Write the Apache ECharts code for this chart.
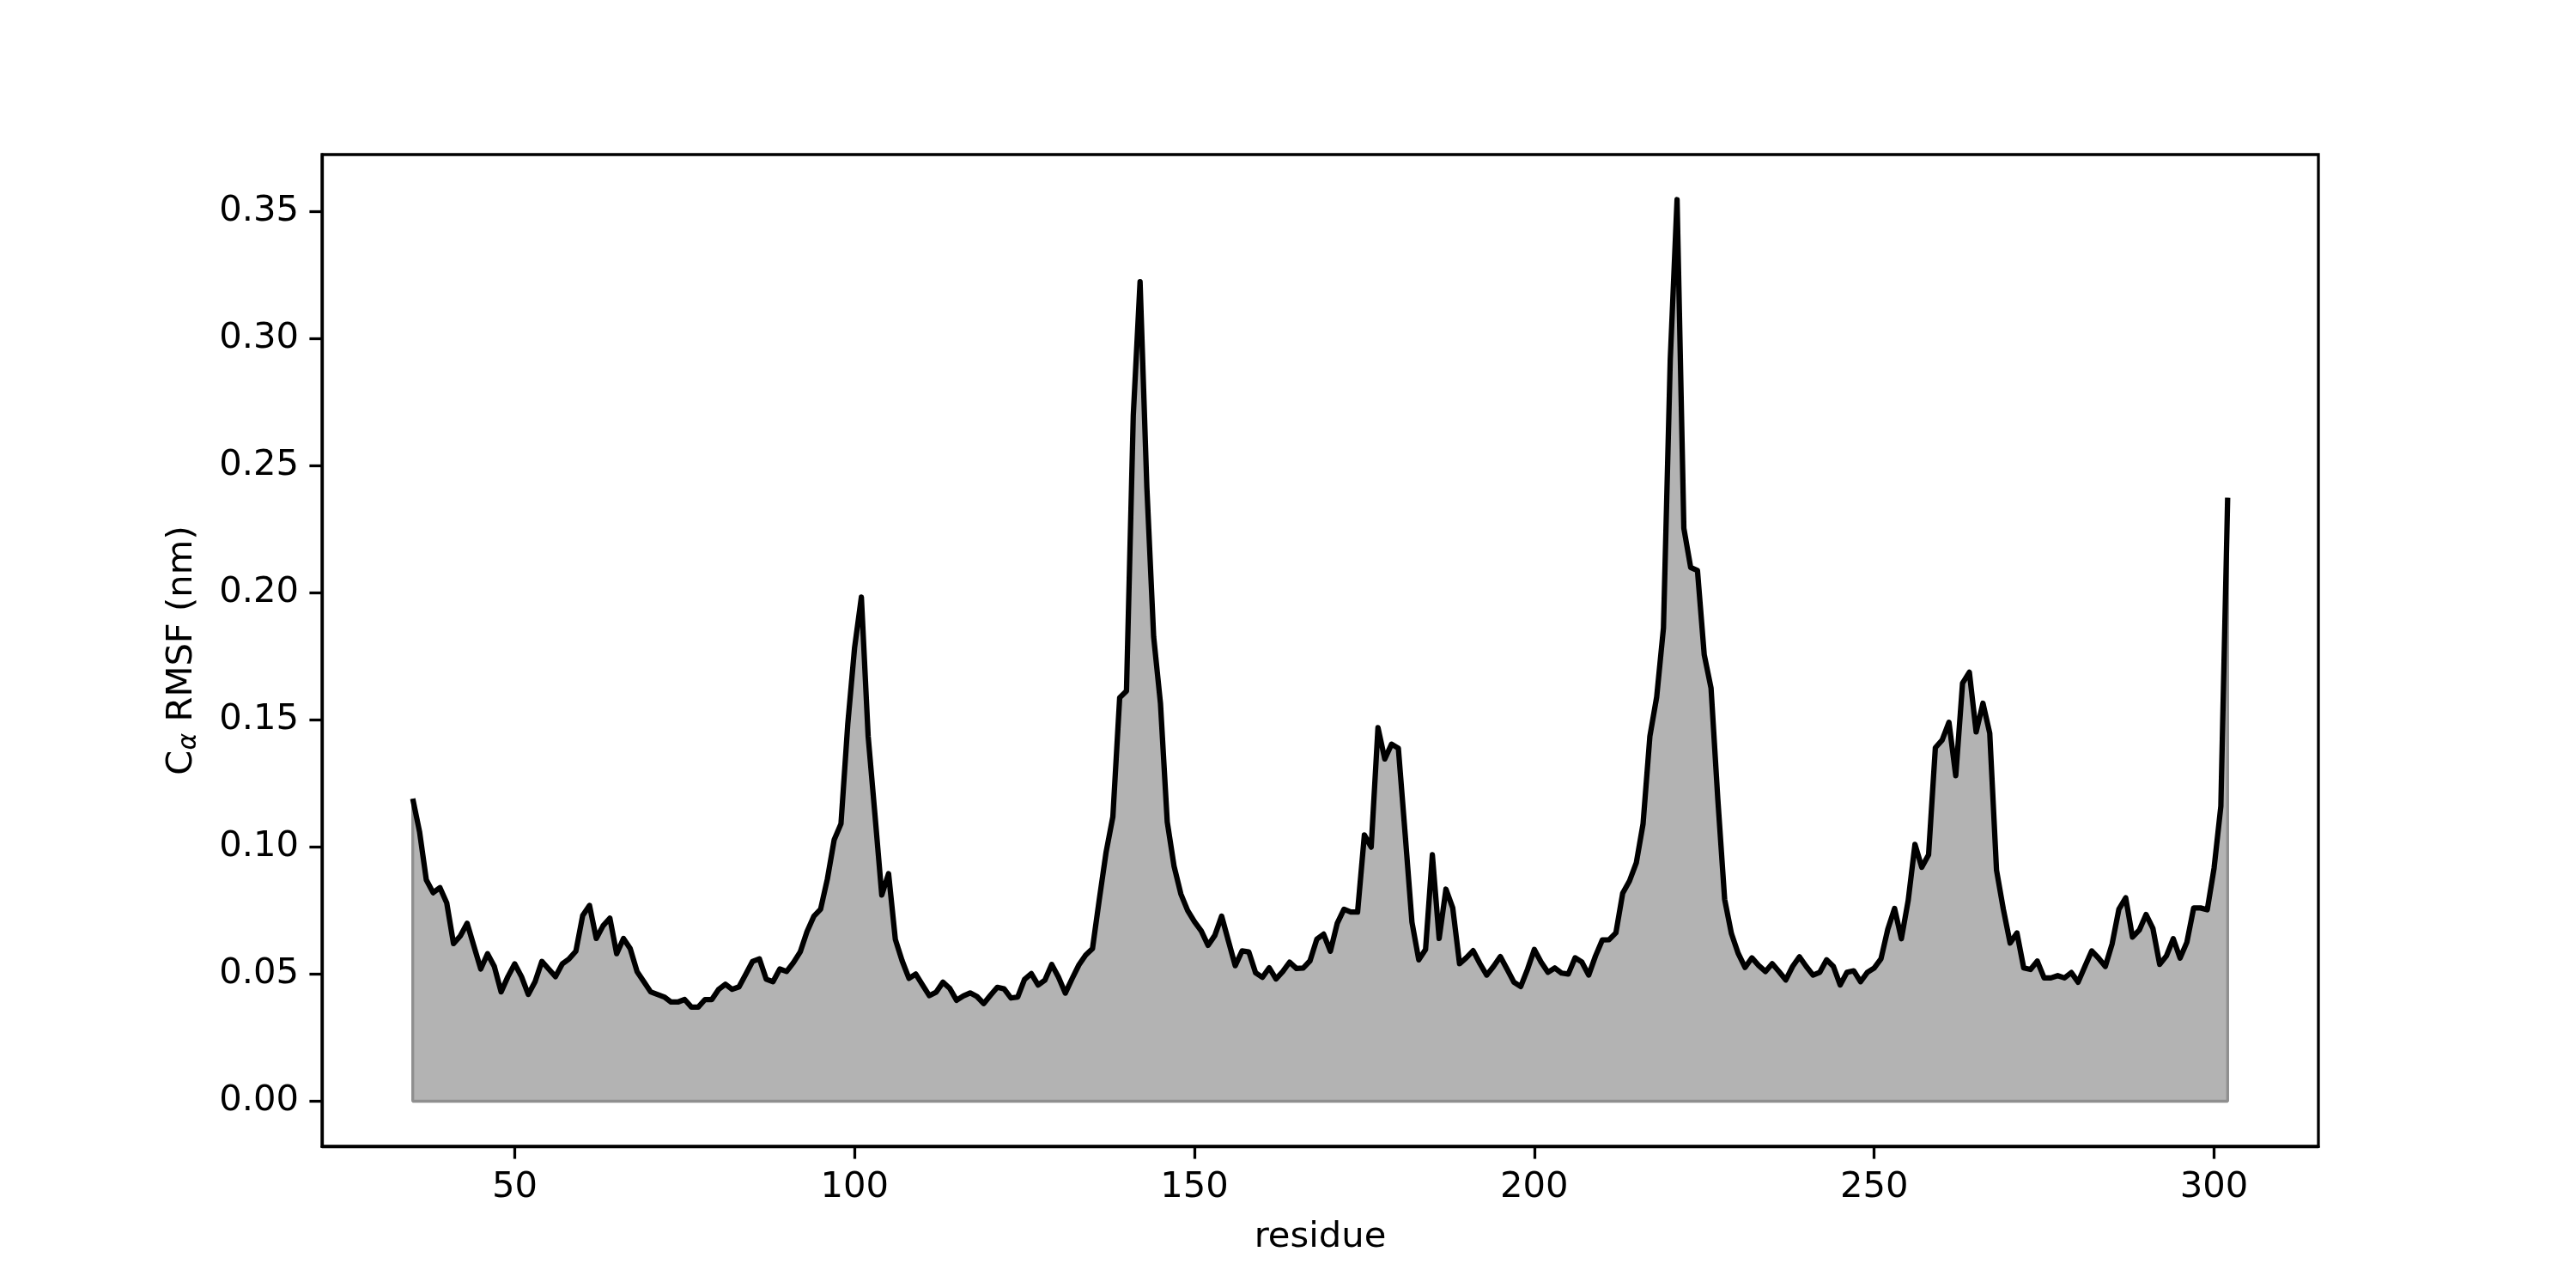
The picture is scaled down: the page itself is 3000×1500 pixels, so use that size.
<!DOCTYPE html>
<html>
<head>
<meta charset="utf-8">
<script src="https://cdn.jsdelivr.net/npm/echarts@6/dist/echarts.min.js"></script>
<style>
html,body{margin:0;padding:0;background:#fff;}
#chart{width:3000px;height:1500px;}
</style>
</head>
<body>
<div id="chart"></div>
<script>
const firstResidue = 35;
const rmsf = [
0.119,0.106,0.087,0.082,0.084,0.078,0.062,0.065,0.070,0.061,
0.052,0.058,0.053,0.043,0.049,0.054,0.049,0.042,0.047,0.055,
0.052,0.049,0.054,0.056,0.059,0.073,0.077,0.064,0.069,0.072,
0.058,0.064,0.060,0.051,0.047,0.043,0.042,0.041,0.039,0.039,
0.040,0.037,0.037,0.040,0.040,0.044,0.046,0.044,0.045,0.050,
0.055,0.056,0.048,0.047,0.052,0.051,0.0545,0.0587,0.0667,0.0727,
0.0755,0.0874,0.1028,0.1091,0.1483,0.1783,0.1982,0.1434,0.1126,0.0811,
0.0895,0.0636,0.0552,0.0483,0.050,0.0457,0.0415,0.0429,0.0468,0.0444,
0.0397,0.0414,0.0426,0.0412,0.0384,0.0417,0.0448,0.0442,0.0406,0.041,
0.0479,0.0502,0.0457,0.0476,0.0538,0.0488,0.0425,0.0482,0.0536,0.0575,
0.0600,0.0793,0.0979,0.1119,0.1587,0.1613,0.2696,0.3222,0.2413,0.1826,
0.1565,0.1098,0.0924,0.0815,0.075,0.0706,0.067,0.0613,0.0652,0.0728,
0.063,0.0533,0.0591,0.0587,0.0505,0.0487,0.0525,0.0481,0.051,0.0547,
0.0522,0.0524,0.0552,0.0637,0.0657,0.059,0.0699,0.0755,0.0744,0.0744,
0.1047,0.0999,0.1469,0.1346,0.1404,0.1388,0.105,0.0704,0.0556,0.0597,
0.0969,0.0640,0.0834,0.0760,0.0541,0.0564,0.0592,0.0541,0.0496,0.053,
0.0569,0.0519,0.0468,0.0451,0.0519,0.0597,0.0547,0.0507,0.0524,0.0504,
0.050,0.0564,0.0547,0.0496,0.0571,0.0634,0.0635,0.0662,0.0818,0.0866,
0.0937,0.1091,0.1435,0.1589,0.1861,0.2917,0.3545,0.2253,0.2099,0.2087,
0.1755,0.1624,0.1186,0.0794,0.0659,0.0581,0.0526,0.0564,0.0534,0.051,
0.0541,0.051,0.0477,0.053,0.0568,0.053,0.0496,0.0507,0.0556,0.053,
0.0457,0.0507,0.0513,0.047,0.0507,0.0524,0.056,0.0676,0.0758,0.0639,
0.0789,0.101,0.092,0.0969,0.139,0.142,0.149,0.128,0.1644,0.1687,
0.1452,0.1565,0.1447,0.0908,0.0755,0.0622,0.0662,0.0524,0.0518,0.0551,
0.0485,0.0485,0.0494,0.0485,0.0506,0.0468,0.053,0.0591,0.0563,0.053,
0.0618,0.0755,0.080,0.0645,0.0673,0.0734,0.068,0.0538,0.0572,0.0639,
0.0563,0.0625,0.076,0.076,0.0753,0.0916,0.116,0.2373
];
const xTicks = [50,100,150,200,250,300];
const yTicks = [0,0.05,0.10,0.15,0.20,0.25,0.30,0.35];

const residues = rmsf.map((_, i) => firstResidue + i);
const lineData = residues.map((r, i) => [r, rmsf[i]]);
const lastR = residues[residues.length - 1];
const edgeData = [[firstResidue, rmsf[0]], [firstResidue, 0], [lastR, 0], [lastR, rmsf[rmsf.length - 1]]];

const xSpan = lastR - firstResidue;
const yMaxData = Math.max(...rmsf);
const FONT = 'DejaVu Sans';
const FS = 41.7;

const chart = echarts.init(document.getElementById('chart'), null, {renderer: 'canvas'});
chart.setOption({
  animation: false,
  backgroundColor: '#ffffff',
  grid: {left: 375, top: 180, width: 2325, height: 1155, show: true, borderColor: '#000', borderWidth: 3.3, backgroundColor: 'transparent'},
  xAxis: {
    type: 'value',
    min: firstResidue - 0.05 * xSpan,
    max: lastR + 0.05 * xSpan,
    name: 'residue',
    nameLocation: 'middle',
    nameGap: 85,
    nameTextStyle: {fontFamily: FONT, fontSize: FS, color: '#000'},
    axisLine: {show: true, onZero: false, lineStyle: {color: '#000', width: 3.3}},
    axisTick: {show: true, length: 14.6, lineStyle: {color: '#000', width: 3.3}, customValues: xTicks},
    axisLabel: {fontFamily: FONT, fontSize: FS, color: '#000', margin: 27, customValues: xTicks},
    splitLine: {show: false}
  },
  yAxis: {
    type: 'value',
    min: -0.05 * yMaxData,
    max: yMaxData * 1.05,
    name: '{a|C}{b|α}{a| RMSF (nm)}',
    nameLocation: 'middle',
    nameGap: 140,
    nameRotate: 90,
    nameTextStyle: {
      fontFamily: FONT, fontSize: FS, color: '#000',
      rich: {
        a: {fontFamily: FONT, fontSize: FS, color: '#000'},
        b: {fontFamily: FONT, fontSize: 30, fontStyle: 'italic', color: '#000', padding: [16, 0, 0, 0]}
      }
    },
    axisLine: {show: true, onZero: false, lineStyle: {color: '#000', width: 3.3}},
    axisTick: {show: true, length: 14.6, lineStyle: {color: '#000', width: 3.3}, customValues: yTicks},
    axisLabel: {fontFamily: FONT, fontSize: FS, color: '#000', margin: 27, customValues: yTicks, formatter: v => v.toFixed(2)},
    splitLine: {show: false}
  },
  series: [
    {
      type: 'line', data: lineData, showSymbol: false, symbol: 'none',
      lineStyle: {width: 0, opacity: 0},
      areaStyle: {color: '#b3b3b3', opacity: 1, origin: 'auto'},
      z: 1
    },
    {
      type: 'line', data: edgeData, showSymbol: false, symbol: 'none',
      lineStyle: {width: 3.3, color: '#8f8f8f'},
      z: 2
    },
    {
      type: 'line', data: lineData, showSymbol: false, symbol: 'none',
      lineStyle: {width: 6.25, color: '#000', join: 'round', cap: 'butt'},
      z: 3
    }
  ]
});
</script>
</body>
</html>
